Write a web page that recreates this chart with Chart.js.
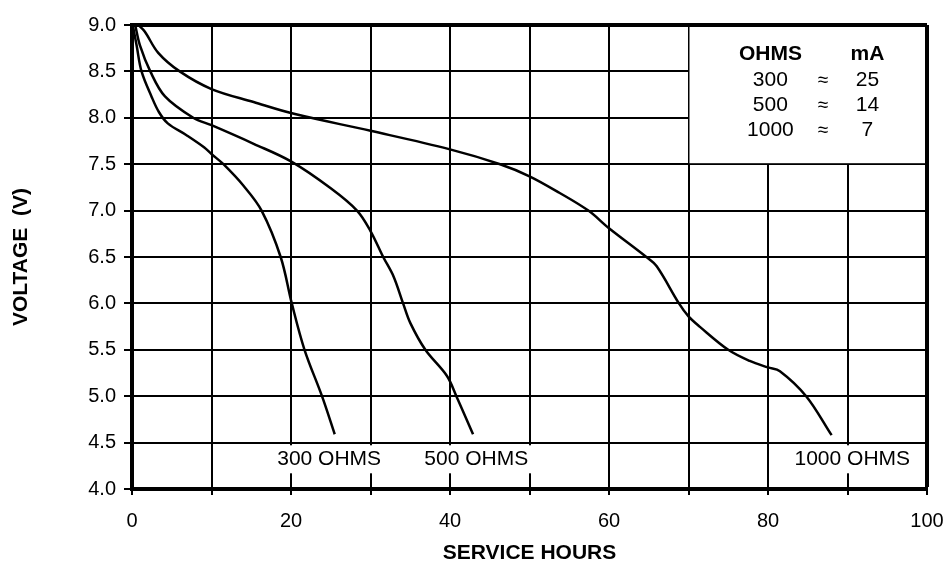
<!DOCTYPE html>
<html>
<head>
<meta charset="utf-8">
<title>Service hours vs voltage</title>
<script src="https://cdn.jsdelivr.net/npm/chart.js@4.4.1/dist/chart.umd.min.js"></script>
<style>
  html, body { margin: 0; padding: 0; background: #fff; }
  #chart { display: block; }
</style>
</head>
<body>
<canvas id="chart" width="948" height="566"></canvas>
<script>
/* ---- DATA ---- */
const hours300 = [0.1, 0.6, 1.2, 2.5, 3.4, 4.5, 6.9, 9.1, 10, 11.5, 14, 16.3, 18.7, 20.1, 21.7, 23.9, 25.5];
const volts300 = [9.0, 8.77, 8.5, 8.22, 8.06, 7.94, 7.81, 7.68, 7.61, 7.5, 7.27, 7.0, 6.5, 6.0, 5.5, 5.0, 4.59];

const hours500 = [0.4, 1.0, 2.3, 4.15, 7.7, 10, 15.3, 20, 25, 28.3, 30, 31.6, 32.9, 34.1, 35.0, 36.9, 39.6, 40.8, 42.9];
const volts500 = [9.0, 8.78, 8.5, 8.23, 8.0, 7.92, 7.72, 7.53, 7.24, 7.0, 6.78, 6.5, 6.29, 6.0, 5.79, 5.5, 5.22, 5.0, 4.59];

const hours1000 = [0.8, 1.6, 3.3, 6.0, 10, 15.3, 20.5, 30, 40, 46.3, 50, 53.8, 57.4, 60, 64.7, 66, 68.8, 70, 71.4, 75, 77.7, 80, 81.5, 84.8, 88];
const volts1000 = [9.0, 8.93, 8.70, 8.5, 8.31, 8.17, 8.04, 7.86, 7.66, 7.5, 7.37, 7.19, 7.0, 6.81, 6.5, 6.40, 6.0, 5.86, 5.75, 5.5, 5.38, 5.31, 5.27, 5.0, 4.58];

const curveLabels = ['300 OHMS', '500 OHMS', '1000 OHMS'];
const curveLabelX = [24.8, 43.3, 90.6];
const curveLabelY = 4.32;

const legendHead = ['OHMS', 'mA'];
const legendOhms = ['300', '500', '1000'];
const legendMa = ['25', '14', '7'];

const xTitle = 'SERVICE HOURS';
const yTitle = 'VOLTAGE  (V)';

/* ---- helpers ---- */
const FONT = '"Liberation Sans", Arial, Helvetica, sans-serif';

function toPoints(xs, ys) {
  return xs.map((x, i) => ({ x: x, y: ys[i] }));
}

function curve(label, xs, ys) {
  return {
    label: label,
    data: toPoints(xs, ys),
    borderColor: '#000',
    borderWidth: 2.5,
    pointRadius: 0,
    fill: false,
    tension: 0.35
  };
}

/* ---- overlay: legend box + curve labels ---- */
const overlay = {
  id: 'overlay',
  beforeDatasetsDraw(chart) {
    const { ctx } = chart;
    const x = chart.scales.x, y = chart.scales.y;
    ctx.save();

    // white legend panel in the top-right cell block
    const lx = x.getPixelForValue(70), rx = x.getPixelForValue(100);
    const ty = y.getPixelForValue(9), by = y.getPixelForValue(7.5);
    ctx.fillStyle = '#fff';
    ctx.fillRect(lx + 1, ty + 2, rx - lx - 3, by - ty - 3);

    ctx.fillStyle = '#000';
    ctx.textAlign = 'center';
    ctx.textBaseline = 'middle';

    const colOhms = x.getPixelForValue(80.3);
    const colApprox = x.getPixelForValue(86.9);
    const colMa = x.getPixelForValue(92.5);
    const rows = [8.69, 8.41, 8.14, 7.87].map(v => y.getPixelForValue(v));

    ctx.font = 'bold 21px ' + FONT;
    ctx.fillText(legendHead[0], colOhms, rows[0]);
    ctx.fillText(legendHead[1], colMa, rows[0]);
    legendOhms.forEach((o, i) => {
      ctx.font = '21px ' + FONT;
      ctx.fillText(o, colOhms, rows[i + 1]);
      ctx.fillText(legendMa[i], colMa, rows[i + 1]);
      ctx.font = '19px ' + FONT;
      ctx.fillText('\u2248', colApprox, rows[i + 1] + 1);
    });

    // curve end labels on white boxes
    ctx.font = '21px ' + FONT;
    const ly = y.getPixelForValue(curveLabelY);
    curveLabels.forEach((t, i) => {
      const cx = x.getPixelForValue(curveLabelX[i]);
      const w = ctx.measureText(t).width;
      ctx.fillStyle = '#fff';
      ctx.fillRect(cx - w / 2 - 4, ly - 14, w + 8, 28);
      ctx.fillStyle = '#000';
      ctx.fillText(t, cx, ly);
    });

    ctx.restore();
  }
};

/* ---- CHART ---- */
new Chart(document.getElementById('chart'), {
  type: 'line',
  data: {
    datasets: [
      curve('300 OHMS', hours300, volts300),
      curve('500 OHMS', hours500, volts500),
      curve('1000 OHMS', hours1000, volts1000)
    ]
  },
  options: {
    responsive: false,
    animation: false,
    layout: { padding: { left: 0, top: 25, right: 21, bottom: 0 } },
    plugins: {
      legend: { display: false },
      tooltip: { enabled: false }
    },
    scales: {
      x: {
        type: 'linear',
        min: 0,
        max: 100,
        afterFit: s => { s.height = 77; s.paddingLeft = 0; s.paddingRight = 0; },
        border: { color: '#000', width: 4 },
        grid: {
          color: '#000',
          lineWidth: c => (c.tick && c.tick.value === 100 ? 4 : 2),
          tickWidth: 2,
          tickLength: 6
        },
        ticks: {
          stepSize: 10,
          autoSkip: false,
          maxRotation: 0,
          padding: 14,
          color: '#000',
          font: { family: FONT, size: 20 },
          callback: v => (v % 20 === 0 ? v : '')
        },
        title: {
          display: true,
          text: xTitle,
          color: '#000',
          padding: 0,
          font: { family: FONT, size: 21, weight: 'bold' }
        }
      },
      y: {
        min: 4,
        max: 9,
        afterFit: s => { s.width = 132; s.paddingTop = 0; s.paddingBottom = 0; },
        border: { color: '#000', width: 4 },
        grid: {
          color: '#000',
          lineWidth: c => (c.tick && c.tick.value === 9 ? 4 : 2),
          tickWidth: 2,
          tickLength: 8
        },
        ticks: {
          stepSize: 0.5,
          padding: 8,
          color: '#000',
          font: { family: FONT, size: 20 },
          callback: v => Number(v).toFixed(1)
        },
        title: {
          display: true,
          text: yTitle,
          color: '#000',
          padding: { top: 9, bottom: 0 },
          font: { family: FONT, size: 21, weight: 'bold' }
        }
      }
    }
  },
  plugins: [overlay]
});
</script>
</body>
</html>
